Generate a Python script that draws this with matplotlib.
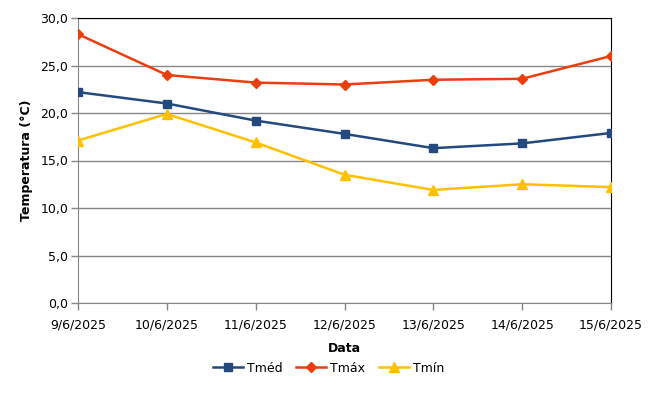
import matplotlib
matplotlib.use("Agg")
import matplotlib.pyplot as plt

datas = ["9/6/2025", "10/6/2025", "11/6/2025", "12/6/2025", "13/6/2025", "14/6/2025", "15/6/2025"]
tmed = [22.2, 21.0, 19.2, 17.8, 16.3, 16.8, 17.9]
tmax = [28.3, 24.0, 23.2, 23.0, 23.5, 23.6, 26.0]
tmin = [17.1, 19.9, 16.9, 13.5, 11.9, 12.5, 12.2]
yticks = [0, 5, 10, 15, 20, 25, 30]

plt.rcParams['font.family'] = ['DejaVu Sans']
plt.rcParams['font.size'] = 9

fig = plt.figure(figsize=(6.67, 3.95), dpi=100)
ax = fig.add_axes([78/667, 1 - 303/395, (611-78)/667, (303-18)/395])

x = list(range(len(datas)))
ax.plot(x, tmed, color="#24497F", marker="s", markersize=6, linewidth=1.8, label="Tméd", zorder=3)
ax.plot(x, tmax, color="#EA3E0E", marker="D", markersize=5.5, linewidth=1.8, label="Tmáx", zorder=3)
ax.plot(x, tmin, color="#FFC000", marker="^", markersize=7, linewidth=1.8, label="Tmín", zorder=3)

ax.set_xlim(0, len(datas) - 1)
ax.set_ylim(0, 30)
ax.set_yticks(yticks)
ax.set_yticklabels([f"{v:.1f}".replace(".", ",") for v in yticks])
ax.set_xticks(x)
ax.set_xticklabels(datas)
ax.grid(axis="y", color="#868686", linewidth=1)
ax.set_axisbelow(True)

for s in ["left", "bottom"]:
    ax.spines[s].set_color("#868686")
for s in ["top", "right"]:
    ax.spines[s].set_color("black")
ax.tick_params(axis="both", color="#868686", length=5, width=1, pad=2)
ax.tick_params(axis="x", pad=6)

ax.set_ylabel("Temperatura (°C)", fontweight="bold", labelpad=5)
ax.set_xlabel("Data", fontweight="bold", labelpad=8)

ax.legend(loc="center", bbox_to_anchor=(0.47, -0.229), ncol=3, frameon=False,
          handlelength=2.4, columnspacing=1.1, handletextpad=0.3)

fig.savefig("out.png", dpi=100)
